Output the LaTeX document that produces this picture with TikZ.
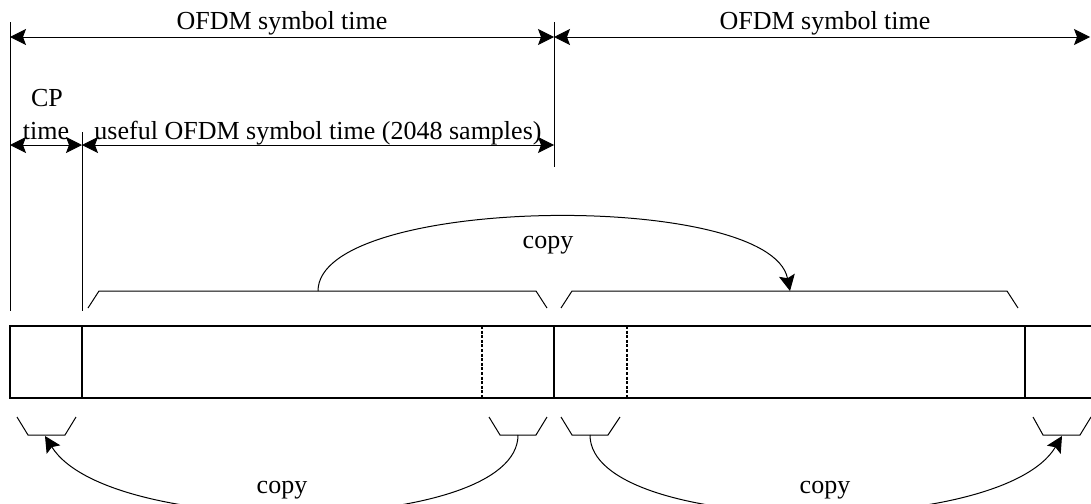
\documentclass[tikz,border=0pt]{standalone}
\usepackage{fontspec}
\setmainfont{Liberation Serif}
\usetikzlibrary{arrows.meta}

\begin{document}
\begin{tikzpicture}[
    x=0.5pt, y=-0.5pt,
    >={Stealth[length=8pt,width=8pt,inset=1.5pt]},
    line width=0.5pt,
    every node/.style={inner sep=0pt, font=\fontsize{13}{15}\selectfont},
    frame/.style={line width=1pt},
    cpline/.style={line width=1pt, dash pattern=on 1.5pt off 0.8pt},
    copylabel/.style={anchor=base, fill=white, inner sep=1pt}
]
  \useasboundingbox (0,0) rectangle (1091,503);

  % marker lines
  \coordinate (m1t) at (10,22);   \coordinate (m1b) at (10,311);
  \coordinate (m2t) at (82,132);  \coordinate (m2b) at (82,311);
  \coordinate (m3t) at (554,22);  \coordinate (m3b) at (554,167);
  \draw (m1t) -- (m1b);
  \draw (m2t) -- (m2b);
  \draw (m3t) -- (m3b);

  % time arrows
  \coordinate (s0) at (10,37);  \coordinate (s1) at (554,37);  \coordinate (s2) at (1090,37);
  \coordinate (u0) at (10,145); \coordinate (u1) at (82,145);  \coordinate (u2) at (554,145);
  \draw[<->] (s0) -- (s1);
  \draw[<->] (s1) -- (s2);
  \draw[<->] (u0) -- (u1);
  \draw[<->] (u1) -- (u2);

  % labels
  \node[anchor=base] (sym1) at (282,29) {OFDM symbol time};
  \node[anchor=base] (sym2) at (825,29) {OFDM symbol time};
  \node[anchor=base] (cp)   at (47,106) {CP};
  \node[anchor=base] (cpt)  at (46,139) {time};
  \node[anchor=base] (use)  at (318,139) {useful OFDM symbol time (2048 samples)};

  % symbol stream
  \draw[frame] (1091,326) -- (10,326) -- (10,398) -- (1091,398);
  \draw[frame] (82,326) -- (82,398);
  \draw[frame] (554,326) -- (554,398);
  \draw[frame] (1025,326) -- (1025,398);
  \draw[cpline] (482,326) -- (482,398);
  \draw[cpline] (627,326) -- (627,398);

  % brackets above
  \draw (88,308) -- (99,291) -- (536,291) -- (547,308);
  \draw (561,308) -- (572,291) -- (1007,291) -- (1018,308);
  \coordinate (up1) at (318,291);
  \coordinate (up2) at (790,291);

  % brackets below
  \draw (17,417) -- (28,435) -- (65,435) -- (76,417);
  \draw (489,417) -- (500,435) -- (536,435) -- (547,417);
  \draw (561,417) -- (572,435) -- (608,435) -- (620,417);
  \draw (1033,417) -- (1043,435) -- (1080,435) -- (1091,417);
  \coordinate (lo1) at (45,436);
  \coordinate (lo2) at (518,435);
  \coordinate (lo3) at (590,435);
  \coordinate (lo4) at (1062,436);

  % copy arrows
  \draw[->] (up1) .. controls (318,195) and (770,190) .. (up2);
  \draw[->] (lo2) .. controls (518,535) and (110,540) .. (lo1);
  \draw[->] (lo3) .. controls (590,535) and (1000,540) .. (lo4);
  \node[anchor=base] (cp0) at (548,248) {copy};
  \node[copylabel] (cp1) at (282,493) {copy};
  \node[copylabel] (cp2) at (825,493) {copy};
\end{tikzpicture}
\end{document}
